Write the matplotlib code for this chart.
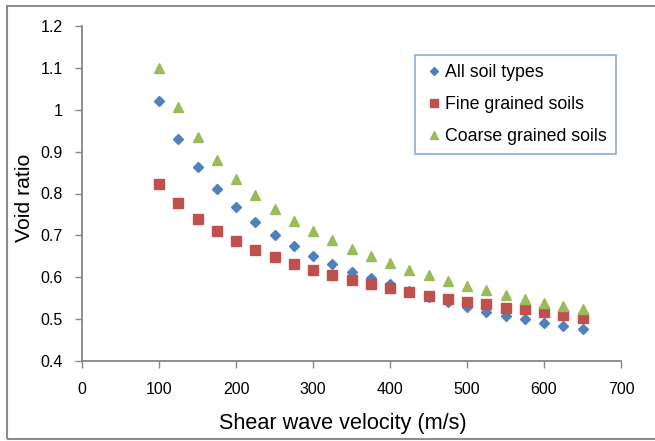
import matplotlib.pyplot as plt
from matplotlib.patches import Rectangle

plt.rcParams['font.family'] = ['Liberation Sans', 'DejaVu Sans']

# shear wave velocity (m/s)
vs = [100, 125, 150, 175, 200, 225, 250, 275, 300, 325, 350, 375, 400,
      425, 450, 475, 500, 525, 550, 575, 600, 625, 650]

# void ratio
e_all = [1.021, 0.931, 0.864, 0.811, 0.768, 0.732, 0.701, 0.675, 0.651, 0.631,
         0.612, 0.598, 0.583, 0.568, 0.553, 0.541, 0.528, 0.518, 0.508, 0.500,
         0.491, 0.484, 0.476]
e_fine = [0.823, 0.777, 0.740, 0.711, 0.687, 0.665, 0.648, 0.632, 0.618, 0.605,
          0.593, 0.584, 0.574, 0.565, 0.556, 0.549, 0.542, 0.535, 0.527, 0.523,
          0.516, 0.510, 0.503]
e_coarse = [1.100, 1.006, 0.936, 0.880, 0.834, 0.797, 0.764, 0.735, 0.711, 0.689,
            0.668, 0.651, 0.634, 0.618, 0.605, 0.592, 0.580, 0.569, 0.558, 0.549,
            0.539, 0.531, 0.523]

fig = plt.figure(figsize=(6.55, 4.41), dpi=100)
ax = fig.add_axes([82 / 655, 1 - 361 / 441, (621 - 82) / 655, (361 - 26) / 441])

ax.plot(vs, e_all, 'D', color='#4F81BD', ms=5.2, mec='#4F81BD', label='All soil types')
ax.plot(vs, e_fine, 's', color='#C0504D', ms=6.8, mec='#C0504D', label='Fine grained soils')
ax.plot(vs, e_coarse, '^', color='#9BBB59', ms=7.5, mec='#9BBB59', label='Coarse grained soils')

ax.set_xlim(0, 700)
ax.set_ylim(0.4, 1.2)
ax.set_xticks(range(0, 701, 100))
ax.set_yticks([0.4, 0.5, 0.6, 0.7, 0.8, 0.9, 1.0, 1.1, 1.2])
ax.set_yticklabels(['0.4', '0.5', '0.6', '0.7', '0.8', '0.9', '1', '1.1', '1.2'])

for s in ['top', 'right']:
    ax.spines[s].set_visible(False)
for s in ['left', 'bottom']:
    ax.spines[s].set_color('#868686')
    ax.spines[s].set_linewidth(1.3)
ax.tick_params(colors='#868686', labelcolor='black', labelsize=11.5, length=5, width=1)
ax.tick_params(axis='x', pad=10)
ax.tick_params(axis='y', pad=9)

ax.set_xlabel('Shear wave velocity (m/s)', fontsize=15.6)
ax.xaxis.set_label_coords((343 - 82) / 539, (361 - 413) / 335)
ax.set_ylabel('Void ratio', fontsize=15.3)
ax.yaxis.set_label_coords((34 - 82) / 539, (361 - 198) / 335)

leg = ax.legend(loc='upper left', bbox_to_anchor=((415 - 82) / 539, (361 - 55) / 335),
                fontsize=12.8, frameon=True, fancybox=False, handlelength=1.17,
                handletextpad=0.02, labelspacing=0.85, borderpad=0.5,
                borderaxespad=0, markerscale=0.8)
leg.get_frame().set_edgecolor('#7096C8')
leg.get_frame().set_linewidth(1.2)

fig.patches.append(Rectangle((7 / 655, 2 / 441), 1.0, 1 - 8 / 441,
                             transform=fig.transFigure, fill=False,
                             edgecolor='#8C8C8C', linewidth=1.5))

fig.savefig('out.png', dpi=100)
